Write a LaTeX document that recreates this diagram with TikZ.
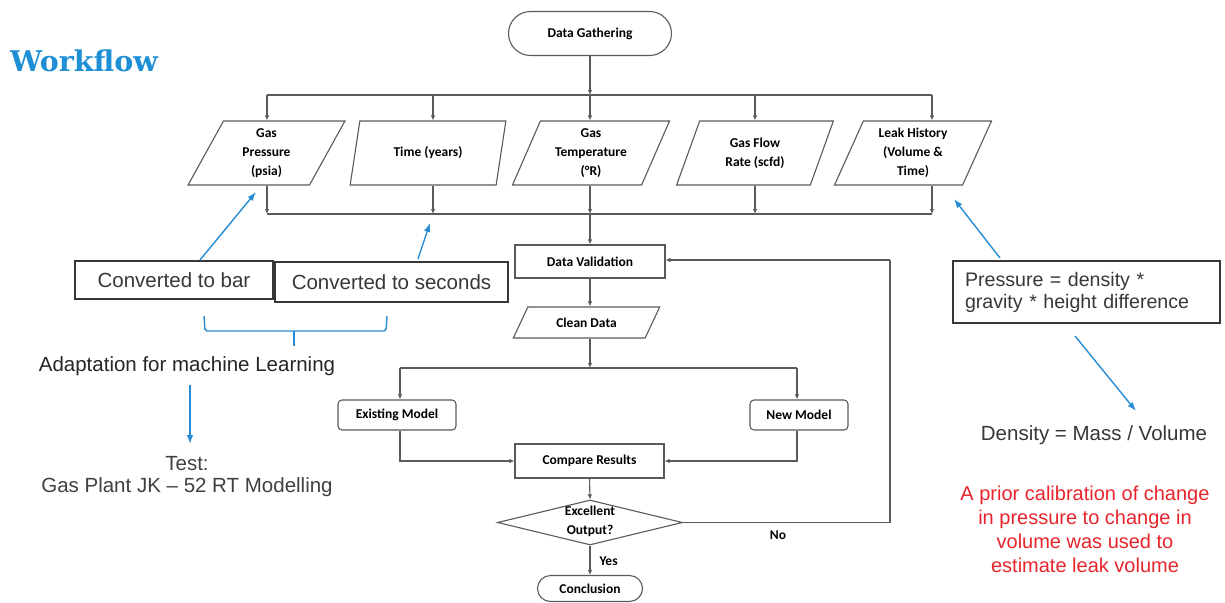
\documentclass[tikz,border=0pt]{standalone}
\usepackage{fontspec}
\usetikzlibrary{shapes.geometric,arrows.meta,calc}
\newfontfamily\flowfam{Carlito}
\newfontfamily\notefam{Liberation Sans}
\newfontfamily\titlefam{DejaVu Serif}
\definecolor{linegray}{RGB}{90,90,90}
\definecolor{notegray}{RGB}{55,55,55}
\definecolor{annblue}{RGB}{40,140,212}
\definecolor{titleblue}{RGB}{30,143,213}
\definecolor{notered}{RGB}{232,36,43}
\newcommand\flowfont{\flowfam\bfseries\fontsize{13.5}{19}\selectfont}
\newcommand\notefont{\notefam\fontsize{20.5}{22}\selectfont}
\begin{document}
\begin{tikzpicture}[x=1pt,y=-1pt,
  flow/.style={draw=linegray, line width=1.1pt, font=\flowfont, align=center, fill=white, inner sep=0pt},
  term/.style={flow, rounded corners=#1},
  para/.style={flow, trapezium, trapezium left angle=#1, trapezium right angle=180-#1, trapezium stretches=true},
  conn/.style={draw=linegray, line width=1.1pt, -{Latex[length=5pt,width=4.5pt]}},
  plainline/.style={draw=linegray, line width=1.1pt},
  notebox/.style={draw=notegray, line width=1.3pt, font=\notefont, text=notegray, inner sep=0pt},
  notetext/.style={font=\notefont, text=notegray, align=center},
  bluearrow/.style={draw=annblue, line width=1.4pt, -{Latex[length=9pt,width=6.5pt]}},
  lbl/.style={font=\flowfont, text=black}
]
\useasboundingbox (0,0) rectangle (1225,602);

% title
\node[font=\titlefam\bfseries\fontsize{28.5}{32}\selectfont, text=titleblue, anchor=base west, inner sep=0pt] (title) at (10,71) {Workflow};

% top terminal
\node[term=22pt, minimum width=163pt, minimum height=44pt] (gather) at (590,33.5) {Data Gathering};

% input parallelograms
\node[para=68, minimum width=157pt, minimum height=64pt] (p1) at (266.5,153) {Gas\\Pressure\\(psia)};
\node[para=68, minimum width=157pt, minimum height=64pt] (p2) at (428,153) {Time (years)};
\node[para=68, minimum width=157pt, minimum height=64pt] (p3) at (591,153) {Gas\\Temperature\\(°R)};
\node[para=68, minimum width=157pt, minimum height=64pt] (p4) at (755,153) {Gas Flow\\Rate (scfd)};
\node[para=68, minimum width=157pt, minimum height=64pt] (p5) at (913,153) {Leak History\\(Volume \&\\Time)};

% bus coordinates
\coordinate (t0) at (590,95);
\coordinate (t1) at (267,95);
\coordinate (t2) at (433,95);
\coordinate (t3) at (590,95);
\coordinate (t4) at (755,95);
\coordinate (t5) at (932,95);
\coordinate (u1) at (267,214);
\coordinate (u2) at (433,214);
\coordinate (u3) at (590,214);
\coordinate (u4) at (755,214);
\coordinate (u5) at (932,214);

\draw[conn] (gather.south) -- (t0);
\draw[plainline] (t1) -- (t5);
\draw[conn] (t1) -- (t1 |- p1.north);
\draw[conn] (t2) -- (t2 |- p2.north);
\draw[conn] (t3) -- (t3 |- p3.north);
\draw[conn] (t4) -- (t4 |- p4.north);
\draw[conn] (t5) -- (t5 |- p5.north);

\draw[conn] (u1 |- p1.south) -- (u1);
\draw[conn] (u2 |- p2.south) -- (u2);
\draw[conn] (u3 |- p3.south) -- (u3);
\draw[conn] (u4 |- p4.south) -- (u4);
\draw[conn] (u5 |- p5.south) -- (u5);
\draw[plainline] (u1) -- (u5);

% main chain
\node[flow, minimum width=150pt, minimum height=33pt] (valid) at (590,261.5) {Data Validation};
\node[para=52, minimum width=147pt, minimum height=31pt] (clean) at (586.5,322.5) {Clean Data};
\draw[conn] (u3) -- (valid.north);
\draw[conn] (valid.south) -- (valid.south |- clean.north);

\coordinate (m0) at (590,368);
\coordinate (m1) at (400,368);
\coordinate (m2) at (797,368);
\draw[conn] (valid.south |- clean.south) -- (m0);
\draw[plainline] (m1) -- (m2);

\node[term=4pt, minimum width=118pt, minimum height=30pt] (exist) at (397,415) {Existing Model};
\node[term=4pt, minimum width=98pt, minimum height=30pt] (newm) at (799,415) {New Model};
\draw[conn] (m1) -- (m1 |- exist.north);
\draw[conn] (m2) -- (m2 |- newm.north);

\node[flow, minimum width=149pt, minimum height=34pt] (comp) at (589.5,461) {Compare Results};
\draw[conn] (m1 |- exist.south) |- (comp.west);
\draw[conn] (m2 |- newm.south) |- (comp.east);

\node[flow, diamond, minimum width=185pt, minimum height=45pt] (dec) at (590,522.5) {};
\node[lbl, align=center] (dectext) at (590,521) {Excellent\\Output?};
\draw[conn] (comp.south) -- (dec.north);

\node[term=13pt, minimum width=105pt, minimum height=26pt] (concl) at (590,588.5) {Conclusion};
\draw[conn] (dec.south) -- (concl.north);
\node[lbl, anchor=west] (yes) at (596,561) {Yes};

\coordinate (loopA) at (890,522.5);
\coordinate (loopB) at (890,260);
\draw[plainline] (dec.east) -- (loopA) -- (loopB);
\draw[conn] (loopB) -- (valid.east |- loopB);
\node[lbl] (no) at (778,535) {No};

% left annotations
\node[notebox, minimum width=198pt, minimum height=38pt] (bar) at (174,280) {Converted to bar};
\node[notebox, minimum width=233pt, minimum height=40pt] (sec) at (391.5,282) {Converted to seconds};
\coordinate (a1s) at (200,260);
\coordinate (a1e) at (256,192);
\coordinate (a2s) at (418,259);
\coordinate (a2e) at (430,223);
\draw[bluearrow] (a1s) -- (a1e);
\draw[bluearrow] (a2s) -- (a2e);
\draw[draw=annblue, line width=1.4pt, rounded corners=2pt] (204,316) -- (205,331) -- (386,331) -- (387,316);
\draw[draw=annblue, line width=1.4pt] (294,331) -- (294,346);
\node[notetext, text=black!85] (adapt) at (187,366) {Adaptation for machine Learning};
\coordinate (a3s) at (190,385);
\coordinate (a3e) at (190,444);
\draw[bluearrow] (a3s) -- (a3e);
\node[notetext, text=black!75, font=\notefam\fontsize{20.5}{22}\selectfont] (test) at (187,477) {Test:\\Gas Plant JK – 52 RT Modelling};

% right annotations
\node[notebox, minimum width=267pt, minimum height=62pt, align=left, text width=243pt, inner sep=0pt, font=\notefam\fontsize{19.6}{22}\selectfont] (press) at (1086.5,292) {Pressure = density *\\gravity * height difference};
\coordinate (a4s) at (1000,258);
\coordinate (a4e) at (954,199);
\coordinate (a5s) at (1075,336);
\coordinate (a5e) at (1136,411);
\draw[bluearrow] (a4s) -- (a4e);
\draw[bluearrow] (a5s) -- (a5e);
\node[notetext] (dens) at (1094,435) {Density = Mass / Volume};
\node[notetext, text=notered, font=\notefam\fontsize{20}{24}\selectfont] (red) at (1085,529) {A prior calibration of change\\in pressure to change in\\volume was used to\\estimate leak volume};
\end{tikzpicture}
\end{document}
